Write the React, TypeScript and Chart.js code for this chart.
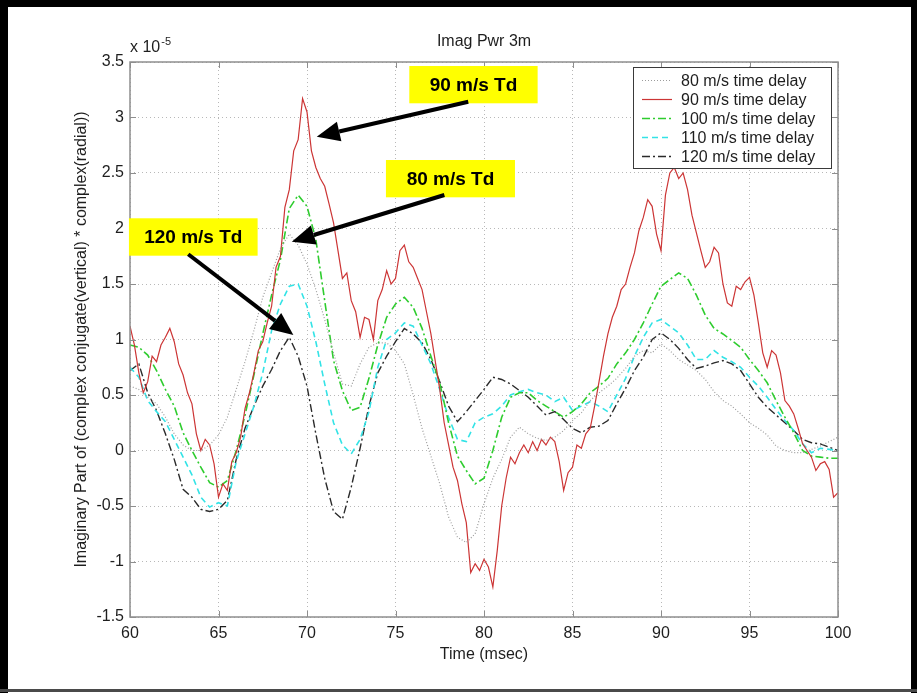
import React, { useEffect, useRef } from "react";
import { Chart, registerables } from "chart.js";

Chart.register(...registerables);

const TITLE = "Imag Pwr 3m";
const X_TITLE = "Time (msec)";
const Y_TITLE = "Imaginary Part of (complex conjugate(vertical) * complex(radial))";
const Y_EXP_BASE = "x 10";
const Y_EXP_POWER = "-5";

const X_TICKS = [60, 65, 70, 75, 80, 85, 90, 95, 100];
const Y_TICKS = [-1.5, -1, -0.5, 0, 0.5, 1, 1.5, 2, 2.5, 3, 3.5];

const SERIES_LABELS = [
  "80 m/s time delay",
  "90 m/s time delay",
  "100 m/s time delay",
  "110 m/s time delay",
  "120 m/s time delay",
];

// time axis (msec), 0.5 ms grid
const TIME_HALF = [
  60, 60.5, 61, 61.5, 62, 62.5, 63, 63.5, 64, 64.5,
  65, 65.5, 66, 66.5, 67, 67.5, 68, 68.5, 69, 69.5,
  70, 70.5, 71, 71.5, 72, 72.5, 73, 73.5, 74, 74.5,
  75, 75.5, 76, 76.5, 77, 77.5, 78, 78.5, 79, 79.5,
  80, 80.5, 81, 81.5, 82, 82.5, 83, 83.5, 84, 84.5,
  85, 85.5, 86, 86.5, 87, 87.5, 88, 88.5, 89, 89.5,
  90, 90.5, 91, 91.5, 92, 92.5, 93, 93.5, 94, 94.5,
  95, 95.5, 96, 96.5, 97, 97.5, 98, 98.5, 99, 99.5,
  100,
];

// time axis (msec), 0.25 ms grid (used for the noisier 90 m/s trace)
const TIME_QUARTER = [
  60, 60.25, 60.5, 60.75, 61, 61.25, 61.5, 61.75, 62, 62.25,
  62.5, 62.75, 63, 63.25, 63.5, 63.75, 64, 64.25, 64.5, 64.75,
  65, 65.25, 65.5, 65.75, 66, 66.25, 66.5, 66.75, 67, 67.25,
  67.5, 67.75, 68, 68.25, 68.5, 68.75, 69, 69.25, 69.5, 69.75,
  70, 70.25, 70.5, 70.75, 71, 71.25, 71.5, 71.75, 72, 72.25,
  72.5, 72.75, 73, 73.25, 73.5, 73.75, 74, 74.25, 74.5, 74.75,
  75, 75.25, 75.5, 75.75, 76, 76.25, 76.5, 76.75, 77, 77.25,
  77.5, 77.75, 78, 78.25, 78.5, 78.75, 79, 79.25, 79.5, 79.75,
  80, 80.25, 80.5, 80.75, 81, 81.25, 81.5, 81.75, 82, 82.25,
  82.5, 82.75, 83, 83.25, 83.5, 83.75, 84, 84.25, 84.5, 84.75,
  85, 85.25, 85.5, 85.75, 86, 86.25, 86.5, 86.75, 87, 87.25,
  87.5, 87.75, 88, 88.25, 88.5, 88.75, 89, 89.25, 89.5, 89.75,
  90, 90.25, 90.5, 90.75, 91, 91.25, 91.5, 91.75, 92, 92.25,
  92.5, 92.75, 93, 93.25, 93.5, 93.75, 94, 94.25, 94.5, 94.75,
  95, 95.25, 95.5, 95.75, 96, 96.25, 96.5, 96.75, 97, 97.25,
  97.5, 97.75, 98, 98.25, 98.5, 98.75, 99, 99.25, 99.5, 99.75,
  100,
];

// values in units of 1e-5
const V80 = [
  0.58, 0.55, 0.48, 0.42, 0.30, 0.15, 0.05, 0.00, 0.00, 0.05,
  0.14, 0.30, 0.55, 0.80, 1.08, 1.38, 1.60, 1.82, 1.95, 1.85,
  1.68, 1.45, 1.18, 0.88, 0.60, 0.58, 0.78, 0.93, 0.97, 0.97,
  0.90, 0.78, 0.50, 0.20, -0.05, -0.30, -0.60, -0.78, -0.83, -0.75,
  -0.48, -0.25, -0.08, 0.12, 0.21, 0.15, 0.11, 0.09, 0.12, 0.18,
  0.27, 0.34, 0.45, 0.52, 0.58, 0.65, 0.74, 0.85, 0.90, 0.88,
  0.96, 0.90, 0.82, 0.77, 0.72, 0.64, 0.53, 0.45, 0.40, 0.33,
  0.25, 0.20, 0.14, 0.04, 0.00, -0.02, -0.02, 0.01, 0.04, 0.08,
  0.12,
];

const V90 = [
  1.12, 0.95, 0.70, 0.52, 0.62, 0.85, 0.80, 0.95, 1.02, 1.10,
  0.98, 0.78, 0.68, 0.52, 0.42, 0.15, 0.00, 0.10, 0.05, -0.12,
  -0.42, -0.30, -0.36, -0.10, -0.02, 0.12, 0.38, 0.52, 0.70, 0.90,
  0.98, 1.15, 1.30, 1.65, 1.75, 2.19, 2.35, 2.70, 2.80, 3.17,
  3.05, 2.70, 2.55, 2.45, 2.38, 2.22, 2.05, 1.80, 1.55, 1.60,
  1.35, 1.25, 1.02, 1.20, 1.18, 1.00, 1.35, 1.45, 1.62, 1.50,
  1.55, 1.80, 1.85, 1.70, 1.65, 1.55, 1.45, 1.25, 1.05, 0.80,
  0.55, 0.25, 0.05, -0.15, -0.27, -0.48, -0.65, -1.10, -1.02, -1.08,
  -0.98, -1.05, -1.23, -0.90, -0.50, -0.25, -0.06, -0.12, -0.02, 0.05,
  -0.02, 0.08, 0.00, 0.10, 0.05, 0.12, 0.08, -0.10, -0.36, -0.20,
  -0.15, 0.05, 0.02, 0.15, 0.20, 0.40, 0.62, 0.85, 1.05, 1.20,
  1.30, 1.45, 1.50, 1.65, 1.78, 1.98, 2.10, 2.26, 2.20, 1.95,
  1.80, 2.30, 2.50, 2.55, 2.45, 2.50, 2.35, 2.12, 1.96, 1.80,
  1.65, 1.70, 1.83, 1.78, 1.50, 1.33, 1.30, 1.48, 1.45, 1.52,
  1.56, 1.40, 1.15, 0.88, 0.75, 0.90, 0.86, 0.70, 0.45, 0.40,
  0.33, 0.20, 0.06, 0.00, -0.06, -0.18, -0.12, -0.10, -0.17, -0.42,
  -0.38,
];

const V100 = [
  0.95, 0.93, 0.86, 0.72, 0.55, 0.40, 0.16, 0.00, -0.15, -0.29,
  -0.33, -0.27, 0.00, 0.32, 0.68, 1.05, 1.40, 1.72, 2.18, 2.30,
  2.20, 1.90, 1.35, 0.81, 0.54, 0.36, 0.39, 0.65, 0.95, 1.20,
  1.32, 1.38, 1.29, 1.10, 0.85, 0.61, 0.25, -0.05, -0.18, -0.30,
  -0.25, 0.00, 0.30, 0.48, 0.52, 0.52, 0.45, 0.40, 0.35, 0.30,
  0.35, 0.42, 0.52, 0.58, 0.65, 0.78, 0.88, 1.00, 1.15, 1.32,
  1.48, 1.54, 1.60, 1.55, 1.40, 1.22, 1.10, 1.05, 0.99, 0.93,
  0.82, 0.72, 0.61, 0.45, 0.30, 0.16, 0.00, -0.05, -0.06, -0.07,
  -0.07,
];

const V110 = [
  0.75, 0.66, 0.45, 0.35, 0.26, 0.10, -0.06, -0.22, -0.42, -0.51,
  -0.47, -0.50, -0.10, 0.15, 0.40, 0.70, 1.08, 1.32, 1.48, 1.50,
  1.30, 0.98, 0.60, 0.25, 0.05, -0.03, 0.10, 0.35, 0.75, 1.00,
  1.06, 1.15, 1.12, 0.95, 0.78, 0.55, 0.30, 0.10, 0.08, 0.25,
  0.30, 0.33, 0.40, 0.50, 0.53, 0.55, 0.52, 0.50, 0.44, 0.48,
  0.36, 0.40, 0.44, 0.40, 0.35, 0.50, 0.65, 0.85, 1.02, 1.15,
  1.18, 1.12, 1.06, 0.95, 0.82, 0.82, 0.90, 0.84, 0.80, 0.75,
  0.66, 0.58, 0.48, 0.37, 0.27, 0.18, 0.06, -0.02, 0.02, 0.01,
  0.00,
];

const V120 = [
  0.72, 0.78, 0.52, 0.36, 0.15, -0.08, -0.35, -0.42, -0.53, -0.55,
  -0.53, -0.45, -0.08, 0.20, 0.40, 0.58, 0.73, 0.90, 1.02, 0.85,
  0.58, 0.15, -0.25, -0.55, -0.62, -0.33, 0.02, 0.40, 0.70, 0.85,
  0.98, 1.10, 1.05, 0.97, 0.82, 0.62, 0.40, 0.26, 0.35, 0.45,
  0.55, 0.66, 0.64, 0.60, 0.54, 0.48, 0.40, 0.32, 0.35, 0.28,
  0.20, 0.16, 0.21, 0.22, 0.27, 0.42, 0.56, 0.72, 0.84, 1.00,
  1.06, 1.00, 0.92, 0.82, 0.74, 0.76, 0.79, 0.81, 0.78, 0.72,
  0.60, 0.48, 0.39, 0.32, 0.25, 0.18, 0.10, 0.07, 0.06, 0.03,
  0.00,
];

// annotation callouts (data coordinates: time msec, value x1e-5)
const CALLOUT_TEXT = ["90 m/s Td", "80 m/s Td", "120 m/s Td"];
const CALLOUT_BOX = [
  [75.78, 3.464, 83.03, 3.128],
  [74.46, 2.617, 81.75, 2.281],
  [59.94, 2.092, 67.21, 1.755],
];
const CALLOUT_ARROW = [
  [79.11, 3.142, 70.55, 2.827],
  [77.76, 2.302, 69.14, 1.881],
  [63.29, 1.768, 69.23, 1.041],
];

const FONT = "'Liberation Sans', Arial, Helvetica, sans-serif";
const TEXT_COLOR = "#1e1e1e";

const pairs = (t: number[], v: number[]) => t.map((x, i) => ({ x, y: v[i] }));

const decorPlugin = {
  id: "decor",
  afterDatasetsDraw(chart: any) {
    const { ctx, chartArea: a, scales } = chart;
    ctx.save();
    // axes box
    ctx.strokeStyle = "#8e8e8e";
    ctx.lineWidth = 1.5;
    ctx.strokeRect(a.left, a.top, a.right - a.left, a.bottom - a.top);
    // inward ticks
    ctx.beginPath();
    const tl = 6;
    X_TICKS.forEach((v) => {
      const px = Math.round(scales.x.getPixelForValue(v)) + 0.5;
      ctx.moveTo(px, a.bottom);
      ctx.lineTo(px, a.bottom - tl);
      ctx.moveTo(px, a.top);
      ctx.lineTo(px, a.top + tl);
    });
    Y_TICKS.forEach((v) => {
      const py = Math.round(scales.y.getPixelForValue(v)) + 0.5;
      ctx.moveTo(a.left, py);
      ctx.lineTo(a.left + tl, py);
      ctx.moveTo(a.right, py);
      ctx.lineTo(a.right - tl, py);
    });
    ctx.lineWidth = 1;
    ctx.stroke();
    ctx.restore();
  },
  afterDraw(chart: any) {
    const { ctx, chartArea: a, scales } = chart;
    const W = chart.width;
    const H = chart.height;
    ctx.save();
    ctx.fillStyle = TEXT_COLOR;
    ctx.textBaseline = "middle";

    // title
    ctx.font = `16px ${FONT}`;
    ctx.textAlign = "center";
    ctx.fillText(TITLE, (a.left + a.right) / 2, a.top - 20);

    // x title
    ctx.fillText(X_TITLE, (a.left + a.right) / 2, a.bottom + 38);

    // y title
    ctx.save();
    ctx.translate(a.left - 48, (a.top + a.bottom) / 2);
    ctx.rotate(-Math.PI / 2);
    ctx.fillText(Y_TITLE, 0, 0);
    ctx.restore();

    // exponent
    ctx.textAlign = "left";
    ctx.font = `16px ${FONT}`;
    ctx.fillText(Y_EXP_BASE, a.left, a.top - 14);
    const bw = ctx.measureText(Y_EXP_BASE).width;
    ctx.font = `11px ${FONT}`;
    ctx.fillText(Y_EXP_POWER, a.left + bw + 1, a.top - 20);

    // legend
    const lx = a.right - 205;
    const ly = a.top + 5;
    const lw = 198;
    const lh = 101;
    ctx.fillStyle = "#ffffff";
    ctx.fillRect(lx, ly, lw, lh);
    ctx.strokeStyle = "#3a3a3a";
    ctx.lineWidth = 1;
    ctx.strokeRect(lx + 0.5, ly + 0.5, lw, lh);
    chart.data.datasets.forEach((ds: any, i: number) => {
      const ry = ly + 13.5 + i * 19;
      ctx.save();
      ctx.strokeStyle = ds.borderColor;
      ctx.lineWidth = ds.borderWidth;
      ctx.setLineDash(ds.borderDash || []);
      ctx.beginPath();
      ctx.moveTo(lx + 9, ry);
      ctx.lineTo(lx + 39, ry);
      ctx.stroke();
      ctx.restore();
      ctx.fillStyle = TEXT_COLOR;
      ctx.font = `16px ${FONT}`;
      ctx.textAlign = "left";
      ctx.fillText(ds.label, lx + 48, ry + 1);
    });

    // callouts
    const X = (v: number) => scales.x.getPixelForValue(v);
    const Y = (v: number) => scales.y.getPixelForValue(v);
    CALLOUT_TEXT.forEach((txt, i) => {
      const [bx1, by1, bx2, by2] = CALLOUT_BOX[i];
      const x1 = X(bx1), y1 = Y(by1), x2 = X(bx2), y2 = Y(by2);
      ctx.fillStyle = "#ffff00";
      ctx.fillRect(x1, y1, x2 - x1, y2 - y1);
      ctx.fillStyle = "#000000";
      ctx.font = `bold 19px ${FONT}`;
      ctx.textAlign = "center";
      ctx.fillText(txt, (x1 + x2) / 2, (y1 + y2) / 2 + 1);

      const [ax1, ay1, ax2, ay2] = CALLOUT_ARROW[i];
      const tx = X(ax1), ty = Y(ay1), hx = X(ax2), hy = Y(ay2);
      const ang = Math.atan2(hy - ty, hx - tx);
      const headLen = 23;
      const headHalf = 10;
      const bxp = hx - headLen * Math.cos(ang);
      const byp = hy - headLen * Math.sin(ang);
      ctx.strokeStyle = "#000000";
      ctx.lineWidth = 4;
      ctx.lineCap = "butt";
      ctx.beginPath();
      ctx.moveTo(tx, ty);
      ctx.lineTo(bxp, byp);
      ctx.stroke();
      ctx.beginPath();
      ctx.moveTo(hx, hy);
      ctx.lineTo(bxp + headHalf * Math.sin(ang), byp - headHalf * Math.cos(ang));
      ctx.lineTo(bxp - headHalf * Math.sin(ang), byp + headHalf * Math.cos(ang));
      ctx.closePath();
      ctx.fill();
    });

    // outer frame
    ctx.fillStyle = "#000000";
    ctx.fillRect(0, 0, W, 7);
    ctx.fillRect(0, 0, 8, H);
    ctx.fillRect(W - 6, 0, 6, H);
    ctx.fillStyle = "#4a4a4a";
    ctx.fillRect(0, H - 4, W, 3);
    ctx.restore();
  },
};

export default function App() {
  const canvasRef = useRef<HTMLCanvasElement | null>(null);

  useEffect(() => {
    const canvas = canvasRef.current;
    if (!canvas) return;
    const tickFont = { family: FONT, size: 16 };
    const chart = new Chart(canvas, {
      type: "line",
      data: {
        datasets: [
          {
            label: SERIES_LABELS[0],
            data: pairs(TIME_HALF, V80),
            borderColor: "#9c9c9c",
            borderWidth: 1.2,
            borderDash: [1, 2],
          },
          {
            label: SERIES_LABELS[1],
            data: pairs(TIME_QUARTER, V90),
            borderColor: "#cc3535",
            borderWidth: 1.2,
            borderDash: [],
          },
          {
            label: SERIES_LABELS[2],
            data: pairs(TIME_HALF, V100),
            borderColor: "#2ecc2e",
            borderWidth: 1.6,
            borderDash: [8, 3, 2, 3],
          },
          {
            label: SERIES_LABELS[3],
            data: pairs(TIME_HALF, V110),
            borderColor: "#33e3e6",
            borderWidth: 1.6,
            borderDash: [6, 4],
          },
          {
            label: SERIES_LABELS[4],
            data: pairs(TIME_HALF, V120),
            borderColor: "#2a2a2a",
            borderWidth: 1.4,
            borderDash: [8, 3, 2, 3],
          },
        ],
      },
      options: {
        animation: false,
        responsive: false,
        devicePixelRatio: 1,
        layout: { padding: { left: 0, top: 62, right: 79, bottom: 0 } },
        elements: { point: { radius: 0 }, line: { tension: 0, fill: false } },
        plugins: {
          legend: { display: false },
          title: { display: false },
          tooltip: { enabled: false },
        },
        scales: {
          x: {
            type: "linear",
            min: 60,
            max: 100,
            afterBuildTicks: (s: any) => {
              s.ticks = X_TICKS.map((value) => ({ value }));
            },
            afterFit: (s: any) => {
              s.height = 76;
            },
            grid: { color: "#b8b8b8", lineWidth: 1, drawTicks: false },
            border: { display: false, dash: [1, 3] },
            ticks: {
              padding: 7,
              font: tickFont,
              color: TEXT_COLOR,
              maxRotation: 0,
              autoSkip: false,
              callback: (v: any) => String(v),
            },
          },
          y: {
            type: "linear",
            min: -1.5,
            max: 3.5,
            afterBuildTicks: (s: any) => {
              s.ticks = Y_TICKS.map((value) => ({ value }));
            },
            afterFit: (s: any) => {
              s.width = 130;
            },
            grid: { color: "#b8b8b8", lineWidth: 1, drawTicks: false },
            border: { display: false, dash: [1, 3] },
            ticks: {
              padding: 6,
              font: tickFont,
              color: TEXT_COLOR,
              autoSkip: false,
              callback: (v: any) => String(v),
            },
          },
        },
      },
      plugins: [decorPlugin],
    });
    return () => chart.destroy();
  }, []);

  return (
    <div
      style={{
        position: "absolute",
        left: 0,
        top: 0,
        width: 917,
        height: 693,
        background: "#ffffff",
      }}
    >
      <canvas ref={canvasRef} width={917} height={693} style={{ display: "block" }} />
    </div>
  );
}
